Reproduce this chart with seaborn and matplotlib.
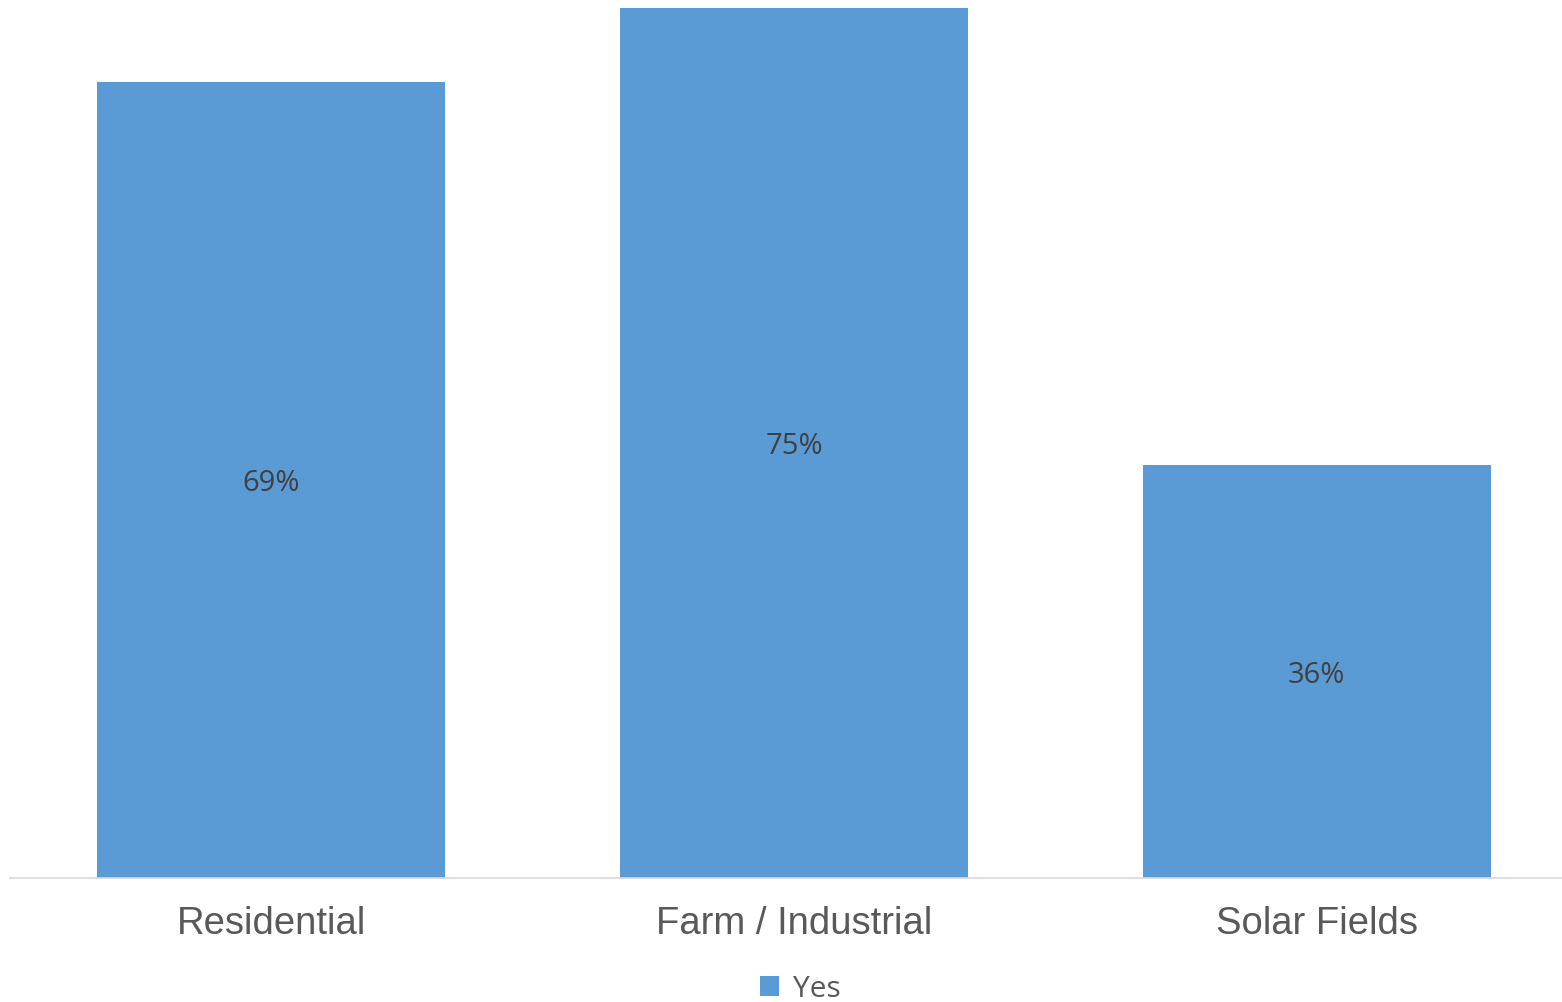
import matplotlib
matplotlib.use("Agg")
import matplotlib.pyplot as plt
from matplotlib.patches import Patch
import matplotlib.transforms as mtransforms
import seaborn as sns
import pandas as pd

categories = ["Residential", "Farm / Industrial", "Solar Fields"]
values = [68.6, 75.0, 35.6]
series_name = "Yes"

sns.set_style("white")
plt.rcParams["font.family"] = ["Liberation Sans", "DejaVu Sans"]

df = pd.DataFrame({"cat": categories, "val": values})

W, H = 1562, 1003
fig = plt.figure(figsize=(W / 100, H / 100), dpi=100)
ax = fig.add_axes([10 / W, (H - 878.5) / H, (1578 - 10) / W, (878.5 - 9.3) / H])

bar_color = "#5B9BD5"
sns.barplot(data=df, x="cat", y="val", ax=ax, color=bar_color, width=348 / 523,
            saturation=1, linewidth=0, edgecolor="none")

ax.set_xlim(-0.5, 2.5)
ax.set_ylim(0, 75.0)
ax.set_xlabel("")
ax.set_ylabel("")
ax.set_yticks([])
for s in ["top", "left", "right"]:
    ax.spines[s].set_visible(False)
ax.spines["bottom"].set_color("#D9D9D9")
ax.spines["bottom"].set_linewidth(1.2)
ax.tick_params(axis="x", length=0, pad=20, labelsize=27.5, labelcolor="#595959")

offset = mtransforms.offset_copy(ax.transData, fig=fig, x=0, y=-3, units="dots")
for i, v in enumerate(values):
    ax.text(i, v / 2, f"{v:.0f}%", ha="center", va="center", fontsize=21,
            color="#404040", family=["Open Sans", "DejaVu Sans"], transform=offset)

handles = [Patch(facecolor=bar_color, edgecolor="none", label=series_name)]
fig.legend(handles=handles, loc="center", bbox_to_anchor=(800 / W, 1 - 990 / H),
           frameon=False, prop={"family": ["Open Sans", "DejaVu Sans"], "size": 21.5},
           labelcolor="#595959", handlelength=0.65, handleheight=0.65, handletextpad=0.45)

fig.savefig("out.png", dpi=100, facecolor="white")
